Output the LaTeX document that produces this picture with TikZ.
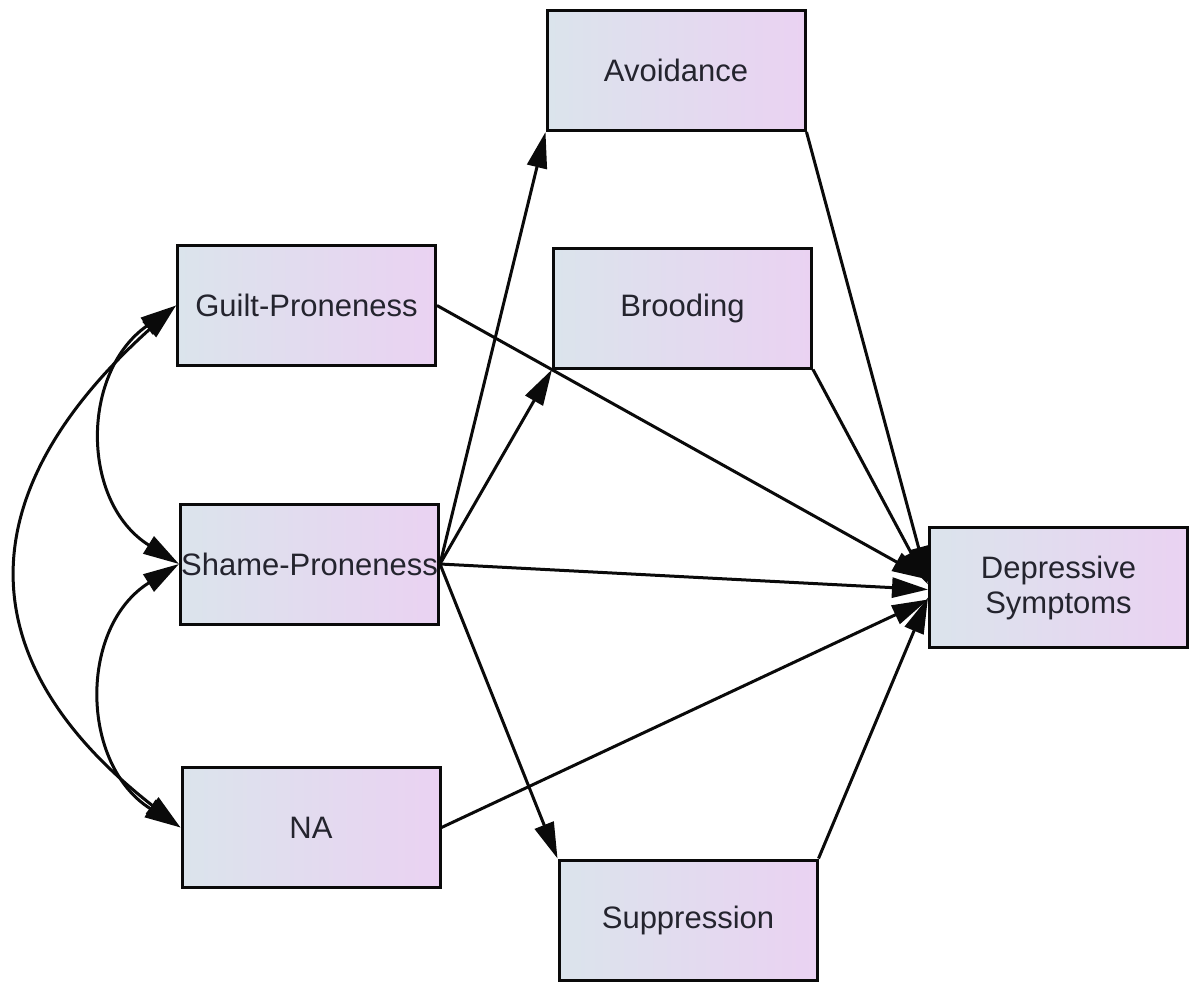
\documentclass[tikz,border=0pt]{standalone}
\usepackage{fontspec}
\setmainfont{Liberation Sans}
\usetikzlibrary{arrows.meta}

\definecolor{boxleft}{RGB}{219,228,236}
\definecolor{boxright}{RGB}{234,210,242}
\definecolor{boxtext}{RGB}{36,36,46}
\definecolor{edge}{RGB}{10,10,10}

\begin{document}
\begin{tikzpicture}[x=1pt,y=-1pt,
  var/.style={draw=edge, line width=3pt, rectangle,
    left color=boxleft, right color=boxright,
    minimum width=258pt, minimum height=120pt, inner sep=0pt,
    text=boxtext, align=center,
    font=\fontsize{31}{35}\selectfont},
  path/.style={draw=edge, line width=3pt,
    -{Triangle[length=36pt,width=20pt]}},
  covar/.style={draw=edge, line width=3pt,
    {Triangle[length=36pt,width=20pt]}-{Triangle[length=36pt,width=20pt]}}
]
\useasboundingbox (0,0) rectangle (1191,982);

% observed variables
\node[var] (avoid) at (676,70.5)   {Avoidance};
\node[var] (brood) at (682.5,308)  {Brooding};
\node[var] (guilt) at (306.5,305.5) {Guilt-Proneness};
\node[var] (shame) at (309.5,564)  {Shame-Proneness};
\node[var] (na)    at (311,827.5)  {NA};
\node[var] (supp)  at (688,920)    {Suppression};
\node[var] (dep)   at (1058.5,587.5) {Depressive\\Symptoms};

% correlations among the predictors
\draw[covar] (guilt.west) to[out=215,in=148,looseness=1.15] (shame.west);
\draw[covar] (shame.west) to[out=212,in=148,looseness=1.15] (na.west);
\draw[covar] (guilt.west) to[out=222,in=142,looseness=1.35] (na.west);

% shame-proneness to the mediators
\draw[path] (shame.east) -- (avoid.south west);
\draw[path] (shame.east) -- (brood.south west);
\draw[path] (shame.east) -- (supp.north west);

% paths into depressive symptoms
\draw[path] (avoid.south east) -- ([yshift=5pt]dep.west);
\draw[path] (brood.south east) -- ([yshift=3pt]dep.west);
\draw[path] (guilt.east) -- ([yshift=8pt]dep.west);
\draw[path] (shame.east) -- ([yshift=-2pt]dep.west);
\draw[path] (na.east) -- ([yshift=-12pt]dep.west);
\draw[path] (supp.north east) -- ([yshift=-10pt]dep.west);
\end{tikzpicture}
\end{document}
